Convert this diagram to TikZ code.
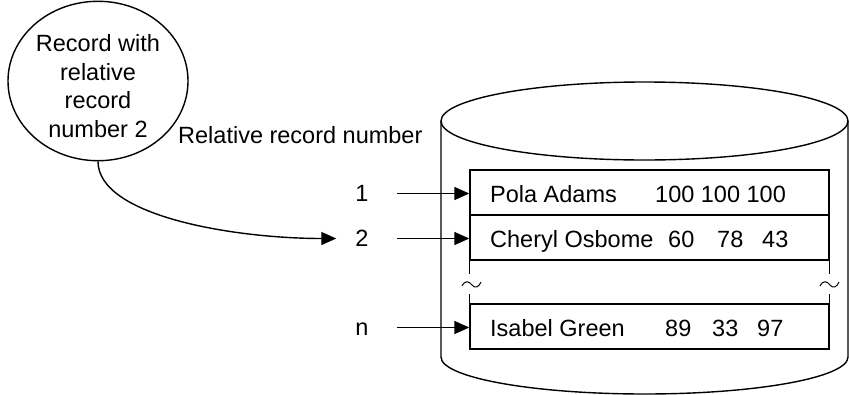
\documentclass[tikz,border=0pt]{standalone}
\usepackage{fontspec}
\setmainfont{Liberation Sans}
\usetikzlibrary{shapes.geometric,arrows.meta}
\begin{document}
\begin{tikzpicture}[x=1pt,y=-1pt,
  every node/.style={inner sep=0pt,font=\fontsize{23.5}{28.5}\selectfont},
  ln/.style={line width=1.4pt},
  arr/.style={ln,-{Triangle[length=15pt,width=13pt]}},
  rowbox/.style={draw,ln,minimum width=359pt,minimum height=45pt},
  numlab/.style={text height=16.8pt,text depth=0pt},
  txt/.style={anchor=base west}]
\useasboundingbox (0,0) rectangle (849,394);
% cylinder
\draw[ln] (644.5,121) ellipse [x radius=203.5,y radius=39];
\draw[ln] (441,121) -- (441,357) arc[start angle=180,end angle=360,x radius=203.5,y radius=-37] -- (848,121);
% record ellipse
\node[ellipse,draw,ln,minimum width=180pt,minimum height=148pt,align=center] (rec) at (98,81)
  {\rule{0pt}{27pt}Record with\\relative\\record\\number 2};
\node[txt] (rrn) at (178,143) {Relative record number};
% rows
\node[rowbox] (r1) at (649.5,192.5) {};
\node[rowbox] (r2) at (649.5,237.5) {};
\node[rowbox] (rn) at (649.5,326.5) {};
\draw[ln] (r2.south west) -- ++(0,13);
\draw[ln] (r2.south east) -- ++(0,13);
\draw[ln] (rn.north west) -- ++(0,-9);
\draw[ln] (rn.north east) -- ++(0,-9);
% break marks
\draw[line width=1pt] (462,286) .. controls (465,280) and (469,281) .. (472,285) .. controls (475,289) and (479,287) .. (481,282);
\draw[line width=1pt] (820,286) .. controls (823,280) and (827,281) .. (830,285) .. controls (833,289) and (837,287) .. (839,282);
% row texts
\node[txt] (t1) at (490,202) {Pola Adams};
\node[txt] (t1s) at (655,202) {100 100 100};
\node[txt] (t2) at (490,247) {Cheryl Osbome};
\node[txt] (t2a) at (668,247) {60};
\node[txt] (t2b) at (717,247) {78};
\node[txt] (t2c) at (762,247) {43};
\node[txt] (tn) at (490,336) {Isabel Green};
\node[txt] (tna) at (665,336) {89};
\node[txt] (tnb) at (712,336) {33};
\node[txt] (tnc) at (757,336) {97};
% numbers
\node[numlab] (n1) at (362,193.5) {1};
\node[numlab] (n2) at (362,238.5) {2};
\node[numlab] (nn) at (362,327.5) {n};
\draw[arr,shorten <=28pt] (n1.east) -- (n1.east -| r1.west);
\draw[arr,shorten <=28pt] (n2.east) -- (n2.east -| r2.west);
\draw[arr,shorten <=28pt] (nn.east) -- (nn.east -| rn.west);
% curve
\draw[arr,shorten >=19pt] (rec.south) .. controls +(0,55) and +(-120,0) .. (n2.west);
\end{tikzpicture}
\end{document}
